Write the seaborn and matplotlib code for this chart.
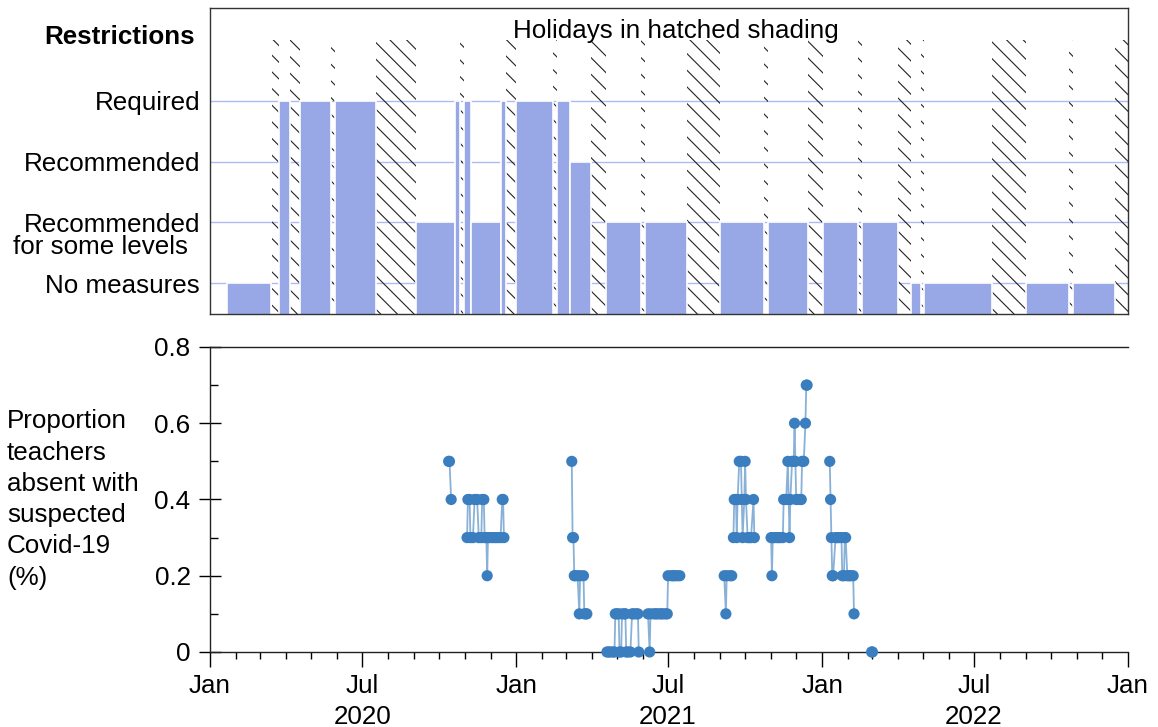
import matplotlib
matplotlib.use("Agg")
import matplotlib.pyplot as plt
import matplotlib.dates as mdates
import matplotlib.ticker as mticker
import pandas as pd
import seaborn as sns

# --- restriction periods (top panel) ---
restr_start = ["2020-01-21", "2020-03-24", "2020-04-17", "2020-05-29", "2020-09-03",
               "2020-10-19", "2020-10-30", "2020-11-08", "2020-12-13", "2021-01-01",
               "2021-02-18", "2021-03-06", "2021-04-18", "2021-06-03", "2021-09-01",
               "2021-10-28", "2022-01-02", "2022-02-17", "2022-04-17", "2022-05-03",
               "2022-09-01", "2022-10-27"]
restr_end = ["2020-03-14", "2020-04-06", "2020-05-25", "2020-07-17", "2020-10-19",
             "2020-10-26", "2020-11-08", "2020-12-13", "2020-12-20", "2021-02-14",
             "2021-03-06", "2021-03-31", "2021-05-30", "2021-07-23", "2021-10-24",
             "2021-12-15", "2022-02-13", "2022-04-02", "2022-04-29", "2022-07-23",
             "2022-10-23", "2022-12-17"]
restr_level = [1, 4, 4, 4, 2, 4, 4, 2, 4, 4, 4, 3, 2, 2, 2, 2, 2, 2, 1, 1, 1, 1]
level_labels = ["No measures", "Recommended", "Recommended", "Required"]

holiday_start = ["2020-03-15", "2020-04-06", "2020-05-25", "2020-07-17", "2020-10-26",
                 "2020-12-20", "2021-02-14", "2021-03-31", "2021-05-30", "2021-07-23",
                 "2021-10-24", "2021-12-15", "2022-02-13", "2022-04-02", "2022-04-29",
                 "2022-07-23", "2022-10-23", "2022-12-17"]
holiday_end = ["2020-03-24", "2020-04-17", "2020-05-29", "2020-09-03", "2020-10-30",
               "2021-01-01", "2021-02-18", "2021-04-18", "2021-06-03", "2021-09-01",
               "2021-10-28", "2022-01-02", "2022-02-17", "2022-04-17", "2022-05-03",
               "2022-09-01", "2022-10-27", "2023-01-01"]

# --- teacher absence (bottom panel), block = run of school days ---
absence_dates = [
    "2020-10-12", "2020-10-13", "2020-10-15",
    "2020-11-03", "2020-11-04", "2020-11-06", "2020-11-07", "2020-11-10", "2020-11-12",
    "2020-11-15", "2020-11-17", "2020-11-20", "2020-11-21", "2020-11-23", "2020-11-24",
    "2020-11-26", "2020-11-27", "2020-11-28", "2020-12-01", "2020-12-04", "2020-12-07",
    "2020-12-10", "2020-12-13", "2020-12-15", "2020-12-16", "2020-12-17",
    "2021-03-08", "2021-03-09", "2021-03-10", "2021-03-11", "2021-03-12", "2021-03-15",
    "2021-03-17", "2021-03-18", "2021-03-22", "2021-03-23", "2021-03-25", "2021-03-26",
    "2021-04-19", "2021-04-21", "2021-04-23", "2021-04-26", "2021-04-28", "2021-04-29",
    "2021-05-01", "2021-05-03", "2021-05-04", "2021-05-06", "2021-05-07", "2021-05-10",
    "2021-05-11", "2021-05-12", "2021-05-14", "2021-05-17", "2021-05-19", "2021-05-21",
    "2021-05-24", "2021-05-26", "2021-05-27",
    "2021-06-07", "2021-06-09", "2021-06-10", "2021-06-14", "2021-06-16", "2021-06-18",
    "2021-06-21", "2021-06-23", "2021-06-25", "2021-06-28", "2021-06-30", "2021-07-01",
    "2021-07-05", "2021-07-07", "2021-07-09", "2021-07-12", "2021-07-15",
    "2021-09-06", "2021-09-08", "2021-09-09", "2021-09-13", "2021-09-15",
    "2021-09-17", "2021-09-18", "2021-09-20", "2021-09-21", "2021-09-22", "2021-09-24",
    "2021-09-26", "2021-09-27", "2021-09-28", "2021-09-30", "2021-10-01", "2021-10-02",
    "2021-10-04", "2021-10-06", "2021-10-08", "2021-10-11", "2021-10-12",
    "2021-11-01", "2021-11-02", "2021-11-03", "2021-11-05", "2021-11-08", "2021-11-10",
    "2021-11-12", "2021-11-15", "2021-11-16", "2021-11-18", "2021-11-19", "2021-11-21",
    "2021-11-22", "2021-11-23", "2021-11-24", "2021-11-26", "2021-11-28", "2021-11-29",
    "2021-11-30", "2021-12-01", "2021-12-03", "2021-12-06", "2021-12-07", "2021-12-08",
    "2021-12-10", "2021-12-12", "2021-12-13", "2021-12-14",
    "2022-01-10", "2022-01-11", "2022-01-12", "2022-01-13", "2022-01-14", "2022-01-17",
    "2022-01-19", "2022-01-21", "2022-01-24", "2022-01-25", "2022-01-27", "2022-01-28",
    "2022-01-29", "2022-01-31", "2022-02-02", "2022-02-04", "2022-02-07", "2022-02-08",
    "2022-03-01", "2022-03-02",
]
absence_values = [
    0.5, 0.5, 0.4,
    0.3, 0.4, 0.4, 0.3, 0.3, 0.4, 0.4, 0.3, 0.3, 0.4, 0.4, 0.3, 0.3, 0.2, 0.3, 0.3, 0.3,
    0.3, 0.3, 0.3, 0.4, 0.4, 0.3,
    0.5, 0.3, 0.3, 0.2, 0.2, 0.2, 0.1, 0.2, 0.2, 0.1, 0.1, 0.1,
    0.0, 0.0, 0.0, 0.0, 0.0, 0.1, 0.1, 0.1, 0.0, 0.0, 0.1, 0.1, 0.1, 0.0, 0.0, 0.0, 0.1,
    0.1, 0.1, 0.1, 0.0,
    0.1, 0.0, 0.1, 0.1, 0.1, 0.1, 0.1, 0.1, 0.1, 0.1, 0.1, 0.2, 0.2, 0.2, 0.2, 0.2, 0.2,
    0.2, 0.1, 0.2, 0.2, 0.2,
    0.3, 0.4, 0.4, 0.3, 0.4, 0.5, 0.5, 0.4, 0.3, 0.4, 0.5, 0.4, 0.3, 0.3, 0.3, 0.4, 0.3,
    0.3, 0.2, 0.3, 0.3, 0.3, 0.3, 0.3, 0.3, 0.4, 0.4, 0.4, 0.5, 0.4, 0.3, 0.4, 0.5, 0.5,
    0.6, 0.5, 0.4, 0.4, 0.4, 0.4, 0.5, 0.5, 0.6, 0.7, 0.7,
    0.5, 0.4, 0.3, 0.2, 0.2, 0.3, 0.3, 0.3, 0.3, 0.2, 0.2, 0.3, 0.3, 0.2, 0.2, 0.2, 0.2,
    0.1,
    0.0, 0.0,
]
absence_block = ([1] * 3 + [2] * 23 + [3] * 12 + [4] * 21 + [5] * 17 + [6] * 5
                 + [7] * 17 + [8] * 28 + [9] * 18 + [10] * 2)

bar_color = "#98a8e6"
grid_color = "#aebaf2"
point_color = "#3a7ebf"

sns.set_style("ticks")
plt.rcParams["font.family"] = ["Liberation Sans", "DejaVu Sans"]
plt.rcParams["hatch.linewidth"] = 0.8
for k in ["text.color", "axes.labelcolor", "xtick.color", "ytick.color"]:
    plt.rcParams[k] = "black"
fs = 18.7

fig = plt.figure(figsize=(11.58, 7.27), dpi=100)
ax1 = fig.add_axes([0.1813, 0.5681, 0.7927, 0.4209])
ax2 = fig.add_axes([0.1813, 0.1032, 0.7927, 0.4195])

x_lo = mdates.date2num(pd.Timestamp("2020-01-01"))
x_hi = mdates.date2num(pd.Timestamp("2023-01-01"))

# top panel: restrictions + holidays
rs = mdates.date2num(pd.to_datetime(restr_start))
re_ = mdates.date2num(pd.to_datetime(restr_end))
hs = mdates.date2num(pd.to_datetime(holiday_start))
he = mdates.date2num(pd.to_datetime(holiday_end))

ax1.bar(hs, [5.0] * len(hs), width=he - hs, align="edge", facecolor="none",
        edgecolor="#222222", hatch="\\\\", linewidth=0, zorder=1)
ax1.bar(rs, restr_level, width=re_ - rs, align="edge", color=bar_color,
        edgecolor="white", linewidth=1.2, zorder=2)

ax1.set_xlim(x_lo, x_hi)
ax1.set_ylim(0.49, 5.53)
ax1.set_yticks([1, 2, 3, 4])
ax1.set_yticklabels(level_labels)
ax1.yaxis.grid(True, color=grid_color, linewidth=1)
ax1.set_axisbelow(True)
ax1.tick_params(axis="y", length=0, pad=7, labelsize=fs)
ax1.tick_params(axis="x", bottom=False, labelbottom=False)
for s in ax1.spines.values():
    s.set_color("#333333")
    s.set_linewidth(1)
ax1.text(-0.024, 2 - 0.4, "for some levels", transform=ax1.get_yaxis_transform(),
         ha="right", va="center", fontsize=fs)
ax1.text(-0.016, 0.905, "Restrictions", transform=ax1.transAxes, ha="right",
         va="center", fontsize=fs, fontweight="bold")
ax1.text(0.508, 0.925, "Holidays in hatched shading", transform=ax1.transAxes,
         ha="center", va="center", fontsize=fs)

# bottom panel: teacher absence
df = pd.DataFrame({"date": pd.to_datetime(absence_dates),
                   "value": absence_values,
                   "block": absence_block})
sns.lineplot(data=df, x="date", y="value", units="block", estimator=None,
             color=point_color, linewidth=1.3, alpha=0.6, ax=ax2)
sns.scatterplot(data=df, x="date", y="value", color=point_color, s=65,
                edgecolor="none", ax=ax2, clip_on=False, zorder=3)

ax2.set_xlim(x_lo, x_hi)
ax2.set_ylim(0, 0.8)
ax2.set_yticks([0, 0.2, 0.4, 0.6, 0.8])
ax2.set_yticklabels(["0", "0.2", "0.4", "0.6", "0.8"])
ax2.yaxis.set_minor_locator(mticker.FixedLocator([0.1, 0.3, 0.5, 0.7]))
ax2.xaxis.set_major_locator(mdates.MonthLocator(bymonth=[1, 7]))
ax2.xaxis.set_minor_locator(mdates.MonthLocator())


def month_label(x, pos):
    d = mdates.num2date(x)
    if d.month == 7:
        return "Jul\n%d" % d.year
    return "Jan"


ax2.xaxis.set_major_formatter(mticker.FuncFormatter(month_label))
ax2.tick_params(axis="y", which="major", direction="inout", length=16, width=1,
                labelsize=fs, pad=6)
ax2.tick_params(axis="y", which="minor", direction="in", length=6, width=1)
ax2.tick_params(axis="x", which="major", direction="out", length=11, width=1,
                labelsize=fs, pad=5)
ax2.tick_params(axis="x", which="minor", direction="out", length=5, width=1)
ax2.spines["right"].set_visible(False)
for s in ["left", "bottom", "top"]:
    ax2.spines[s].set_color("#222222")
    ax2.spines[s].set_linewidth(1)
ax2.set_xlabel("")
ax2.set_ylabel("Proportion\nteachers\nabsent with\nsuspected\nCovid-19\n(%)",
               rotation=0, ha="left", va="center", multialignment="left",
               fontsize=fs, linespacing=1.38)
ax2.yaxis.set_label_coords(-0.221, 0.5)

fig.canvas.draw()
for lab in ax2.get_xticklabels():
    lab.set_linespacing(1.35)

fig.savefig("out.png", dpi=100)
